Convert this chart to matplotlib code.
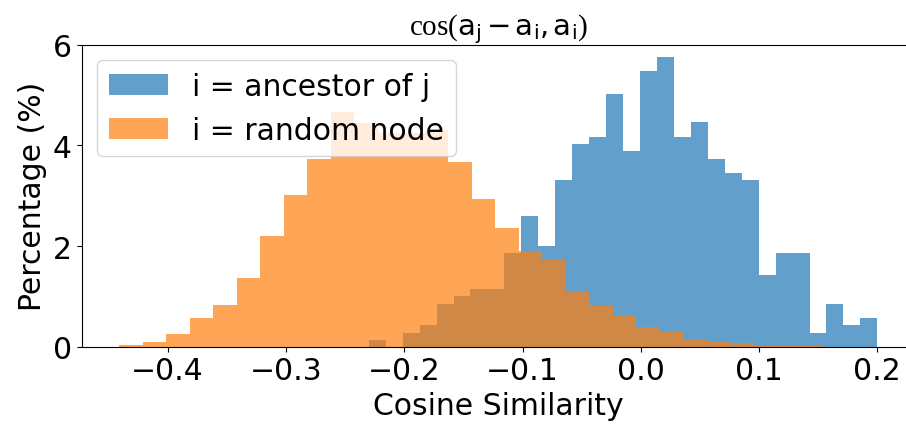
import numpy as np
import matplotlib
matplotlib.use("Agg")
import matplotlib.pyplot as plt

# histogram values (density, labelled as percentage)
ancestor_range = (-0.230, 0.200)
ancestor_heights = [0.13, 0.0, 0.27, 0.43, 0.85, 1.01, 1.15, 1.15, 1.87, 2.59,
                    2.01, 3.31, 4.03, 4.17, 5.03, 3.89, 5.47, 5.75, 4.17, 4.47,
                    3.73, 3.45, 3.31, 1.43, 1.87, 1.87, 0.27, 0.85, 0.43, 0.57]

random_range = (-0.441, 0.155)
random_heights = [0.04, 0.09, 0.25, 0.57, 0.83, 1.36, 2.19, 3.01, 3.73, 4.67,
                  4.45, 4.25, 4.25, 4.31, 3.67, 2.93, 2.35, 1.91, 1.73, 1.09,
                  0.80, 0.61, 0.40, 0.32, 0.13, 0.09, 0.08, 0.02, 0.01, 0.01]

labels = ['i = ancestor of j', 'i = random node']
xticks = [-0.4, -0.3, -0.2, -0.1, 0.0, 0.1, 0.2]
yticks = [0, 2, 4, 6]

fs = 21.5

# serif "cos", sans letters in the title
plt.rcParams['mathtext.fontset'] = 'custom'
plt.rcParams['mathtext.rm'] = 'Liberation Serif'
plt.rcParams['mathtext.it'] = 'Liberation Serif:italic'
plt.rcParams['mathtext.sf'] = 'DejaVu Sans'

fig = plt.figure(figsize=(9.06, 4.27), dpi=100)
ax = fig.add_axes([81.7 / 906, (427 - 347.7) / 427,
                   (915.2 - 81.7) / 906, (347.7 - 45.7) / 427])

for rng, heights, label in [(ancestor_range, ancestor_heights, labels[0]),
                            (random_range, random_heights, labels[1])]:
    edges = np.linspace(rng[0], rng[1], len(heights) + 1)
    ax.hist(edges[:-1], bins=edges, weights=heights, alpha=0.7, label=label)

ax.set_xlim(-0.4727, 0.232)
ax.set_ylim(0, 6)
ax.set_xticks(xticks)
ax.set_yticks(yticks)
ax.tick_params(labelsize=fs)
ax.set_xlabel('Cosine Similarity', fontsize=fs)
ax.set_ylabel('Percentage (%)', fontsize=fs)
ax.set_title(r'$\cos(\mathsf{a_j - a_i, a_i})$', fontsize=21)
ax.legend(loc='upper left', fontsize=fs)

fig.savefig('out.png', dpi=100)
